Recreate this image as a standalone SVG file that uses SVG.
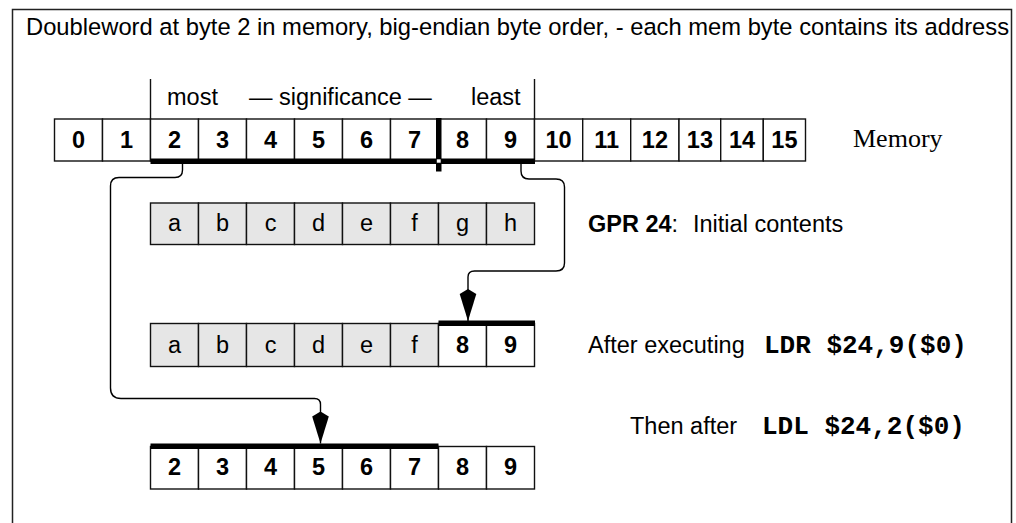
<svg xmlns="http://www.w3.org/2000/svg" width="1016" height="523" viewBox="0 0 1016 523">
<style>
.cell{stroke:#111;stroke-width:1.4;fill:#fff}
.g{fill:#e6e6e6}
.t{font-family:"Liberation Sans",Arial,sans-serif;font-size:23.5px;fill:#000}
.b{font-weight:bold}
.c{text-anchor:middle}
.m{font-family:"Liberation Mono","Courier New",monospace;font-weight:bold;font-size:26px;fill:#000}
.s{font-family:"Liberation Serif","Times New Roman",serif;font-size:26px;fill:#000}
.bar{fill:#000}
.conn{fill:none;stroke:#000;stroke-width:1.4}
.frame{fill:none;stroke:#222;stroke-width:1.5}
</style>
<defs>
<marker id="kite" viewBox="0 -9 33 18" refX="32" refY="0" markerWidth="33" markerHeight="18" markerUnits="userSpaceOnUse" orient="auto">
<path d="M0,0 L5,-8.3 L32,0 L5,8.3 Z" fill="#000"/>
</marker>
</defs>
<rect width="1016" height="523" fill="#fff"/>
<path class="frame" d="M12.5,523 V9.5 H1011.5 V523"/>
<text class="t" x="26" y="35" style="font-size:23.75px">Doubleword at byte 2 in memory, big-endian byte order, - each mem byte contains its address</text>

<g id="significance">
<line x1="150.5" y1="79" x2="150.5" y2="119" stroke="#111" stroke-width="1.4"/>
<line x1="534.5" y1="79" x2="534.5" y2="119" stroke="#111" stroke-width="1.4"/>
<text class="t" x="167" y="105">most</text>
<text class="t" x="249" y="105">— significance —</text>
<text class="t" x="471" y="105">least</text>
</g>

<g id="memory">
<g id="mem-0"><rect class="cell" x="54.5" y="119" width="48" height="42"/><text class="t b c" x="78.5" y="147.5">0</text></g>
<g id="mem-1"><rect class="cell" x="102.5" y="119" width="48" height="42"/><text class="t b c" x="126.5" y="147.5">1</text></g>
<g id="mem-2"><rect class="cell" x="150.5" y="119" width="48" height="42"/><text class="t b c" x="174.5" y="147.5">2</text></g>
<g id="mem-3"><rect class="cell" x="198.5" y="119" width="48" height="42"/><text class="t b c" x="222.5" y="147.5">3</text></g>
<g id="mem-4"><rect class="cell" x="246.5" y="119" width="48" height="42"/><text class="t b c" x="270.5" y="147.5">4</text></g>
<g id="mem-5"><rect class="cell" x="294.5" y="119" width="48" height="42"/><text class="t b c" x="318.5" y="147.5">5</text></g>
<g id="mem-6"><rect class="cell" x="342.5" y="119" width="48" height="42"/><text class="t b c" x="366.5" y="147.5">6</text></g>
<g id="mem-7"><rect class="cell" x="390.5" y="119" width="48" height="42"/><text class="t b c" x="414.5" y="147.5">7</text></g>
<g id="mem-8"><rect class="cell" x="438.5" y="119" width="48" height="42"/><text class="t b c" x="462.5" y="147.5">8</text></g>
<g id="mem-9"><rect class="cell" x="486.5" y="119" width="48" height="42"/><text class="t b c" x="510.5" y="147.5">9</text></g>
<g id="mem-10"><rect class="cell" x="534.5" y="119" width="48.2" height="42"/><text class="t b c" x="558.6" y="147.5">10</text></g>
<g id="mem-11"><rect class="cell" x="582.7" y="119" width="48" height="42"/><text class="t b c" x="606.7" y="147.5">11</text></g>
<g id="mem-12"><rect class="cell" x="630.7" y="119" width="48.3" height="42"/><text class="t b c" x="654.9" y="147.5">12</text></g>
<g id="mem-13"><rect class="cell" x="679" y="119" width="41.7" height="42"/><text class="t b c" x="699.9" y="147.5">13</text></g>
<g id="mem-14"><rect class="cell" x="720.7" y="119" width="42.6" height="42"/><text class="t b c" x="742" y="147.5">14</text></g>
<g id="mem-15"><rect class="cell" x="763.3" y="119" width="42.2" height="42"/><text class="t b c" x="784.4" y="147.5">15</text></g>
<rect class="bar" x="150.5" y="158.5" width="384.5" height="5.5"/>
<rect class="bar" x="436" y="118" width="5.5" height="53.5"/>
<rect x="436.8" y="159.3" width="3.9" height="3.4" fill="#fff"/>
<text class="s" x="853" y="147">Memory</text>
</g>

<g id="gpr-initial">
<g id="gpr1-a"><rect class="cell g" x="150.5" y="203" width="48" height="41.5"/><text class="t c" x="174.5" y="231">a</text></g>
<g id="gpr1-b"><rect class="cell g" x="198.5" y="203" width="48" height="41.5"/><text class="t c" x="222.5" y="231">b</text></g>
<g id="gpr1-c"><rect class="cell g" x="246.5" y="203" width="48" height="41.5"/><text class="t c" x="270.5" y="231">c</text></g>
<g id="gpr1-d"><rect class="cell g" x="294.5" y="203" width="48" height="41.5"/><text class="t c" x="318.5" y="231">d</text></g>
<g id="gpr1-e"><rect class="cell g" x="342.5" y="203" width="48" height="41.5"/><text class="t c" x="366.5" y="231">e</text></g>
<g id="gpr1-f"><rect class="cell g" x="390.5" y="203" width="48" height="41.5"/><text class="t c" x="414.5" y="231">f</text></g>
<g id="gpr1-g"><rect class="cell g" x="438.5" y="203" width="48" height="41.5"/><text class="t c" x="462.5" y="231">g</text></g>
<g id="gpr1-h"><rect class="cell g" x="486.5" y="203" width="48" height="41.5"/><text class="t c" x="510.5" y="231">h</text></g>
<text class="t" x="588" y="231.5"><tspan class="b">GPR 24</tspan>:<tspan x="693">Initial contents</tspan></text>
</g>

<g id="gpr-after-ldr">
<g id="gpr2-a"><rect class="cell g" x="150.5" y="323.5" width="48" height="43"/><text class="t c" x="174.5" y="352.5">a</text></g>
<g id="gpr2-b"><rect class="cell g" x="198.5" y="323.5" width="48" height="43"/><text class="t c" x="222.5" y="352.5">b</text></g>
<g id="gpr2-c"><rect class="cell g" x="246.5" y="323.5" width="48" height="43"/><text class="t c" x="270.5" y="352.5">c</text></g>
<g id="gpr2-d"><rect class="cell g" x="294.5" y="323.5" width="48" height="43"/><text class="t c" x="318.5" y="352.5">d</text></g>
<g id="gpr2-e"><rect class="cell g" x="342.5" y="323.5" width="48" height="43"/><text class="t c" x="366.5" y="352.5">e</text></g>
<g id="gpr2-f"><rect class="cell g" x="390.5" y="323.5" width="48" height="43"/><text class="t c" x="414.5" y="352.5">f</text></g>
<g id="gpr2-8"><rect class="cell" x="438.5" y="323.5" width="48" height="43"/><text class="t b c" x="462.5" y="352.5">8</text></g>
<g id="gpr2-9"><rect class="cell" x="486.5" y="323.5" width="48" height="43"/><text class="t b c" x="510.5" y="352.5">9</text></g>
<rect class="bar" x="438.5" y="320.5" width="96.5" height="5.5"/>
<text class="t" x="588" y="352.5">After executing</text>
<text class="m" x="764" y="352.5">LDR $24,9($0)</text>
</g>

<g id="gpr-after-ldl">
<g id="gpr3-2"><rect class="cell" x="150.5" y="446.5" width="48" height="42.5"/><text class="t b c" x="174.5" y="475">2</text></g>
<g id="gpr3-3"><rect class="cell" x="198.5" y="446.5" width="48" height="42.5"/><text class="t b c" x="222.5" y="475">3</text></g>
<g id="gpr3-4"><rect class="cell" x="246.5" y="446.5" width="48" height="42.5"/><text class="t b c" x="270.5" y="475">4</text></g>
<g id="gpr3-5"><rect class="cell" x="294.5" y="446.5" width="48" height="42.5"/><text class="t b c" x="318.5" y="475">5</text></g>
<g id="gpr3-6"><rect class="cell" x="342.5" y="446.5" width="48" height="42.5"/><text class="t b c" x="366.5" y="475">6</text></g>
<g id="gpr3-7"><rect class="cell" x="390.5" y="446.5" width="48" height="42.5"/><text class="t b c" x="414.5" y="475">7</text></g>
<g id="gpr3-8"><rect class="cell" x="438.5" y="446.5" width="48" height="42.5"/><text class="t b c" x="462.5" y="475">8</text></g>
<g id="gpr3-9"><rect class="cell" x="486.5" y="446.5" width="48" height="42.5"/><text class="t b c" x="510.5" y="475">9</text></g>
<rect class="bar" x="150.5" y="443.5" width="288" height="5.5"/>
<text class="t" x="630" y="433.5">Then after</text>
<text class="m" x="762" y="433.5">LDL $24,2($0)</text>
</g>

<g id="connectors">
<path class="conn" marker-end="url(#kite)" d="M182.5,164 V170 Q182.5,177.5 175,177.5 H119 Q110.5,177.5 110.5,186 V388 Q110.5,398.5 121,398.5 H314.5 Q320.5,398.5 320.5,404.5 V443.5"/>
<path class="conn" marker-end="url(#kite)" d="M521,164 V171 Q521,179 529,179 H556 Q564.5,179 564.5,187 V263 Q564.5,271 556,271 H474.5 Q468,271 468,277 V321"/>
</g>
</svg>
